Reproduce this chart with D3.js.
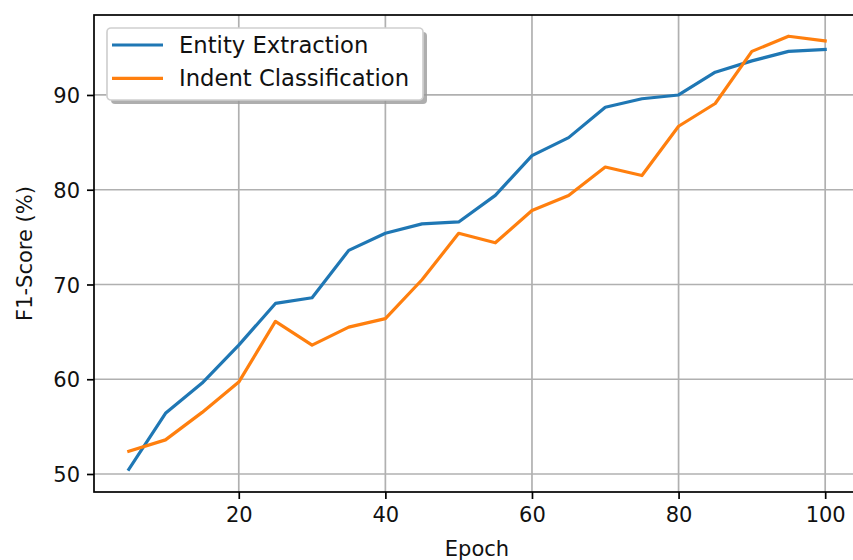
<!DOCTYPE html>
<html><head><meta charset="utf-8">
<script src="https://cdn.jsdelivr.net/npm/d3@7"></script>
<style>body{margin:0;background:#fff}svg{display:block}</style></head>
<body><svg id="c" width="853" height="560"></svg>
<script>
const epochs = [5,10,15,20,25,30,35,40,45,50,55,60,65,70,75,80,85,90,95,100];
const entityExtraction = [50.5,56.4,59.6,63.6,68.0,68.6,73.6,75.4,76.4,76.6,79.4,83.6,85.5,88.7,89.6,90.0,92.4,93.6,94.6,94.8];
const indentClassification = [52.4,53.6,56.5,59.7,66.1,63.6,65.5,66.4,70.5,75.4,74.4,77.8,79.4,82.4,81.5,86.7,89.1,94.6,96.2,95.7];
const xTicks = [20,40,60,80,100];
const yTicks = [50,60,70,80,90];
const seriesNames = ["Entity Extraction","Indent Classification"];
const seriesColors = ["#1f77b4","#ff7f0e"];
const xLabel = "Epoch";
const yLabel = "F1-Score (%)";

const W = 853, H = 560;
const plot = {left:94, right:860, top:15, bottom:492};
const font = "'DejaVu Sans', sans-serif";
const fs = 21;

const svg = d3.select("#c");
const x = d3.scaleLinear().domain([0.25,104.75]).range([plot.left, plot.right]);
const y = d3.scaleLinear().domain([48.1,98.44]).range([plot.bottom, plot.top]);

// grid
const g = svg.append("g");
g.selectAll(".gx").data(xTicks).enter().append("line")
  .attr("x1", d=>x(d)).attr("x2", d=>x(d)).attr("y1", plot.top).attr("y2", plot.bottom)
  .attr("stroke","#b0b0b0").attr("stroke-width",1.7);
g.selectAll(".gy").data(yTicks).enter().append("line")
  .attr("x1", plot.left).attr("x2", plot.right).attr("y1", d=>y(d)).attr("y2", d=>y(d))
  .attr("stroke","#b0b0b0").attr("stroke-width",1.7);

// lines
const series = [entityExtraction, indentClassification];
const line = d3.line().x((d,i)=>x(epochs[i])).y(d=>y(d));
series.forEach((s,k)=>{
  svg.append("path").datum(s).attr("d", line).attr("fill","none")
    .attr("stroke", seriesColors[k]).attr("stroke-width",3.2)
    .attr("stroke-linejoin","round").attr("stroke-linecap","square");
});

// axes
const xAxis = d3.axisBottom(x).tickValues(xTicks).tickSize(7).tickPadding(7).tickFormat(d3.format("d"));
const yAxis = d3.axisLeft(y).tickValues(yTicks).tickSize(7).tickPadding(7).tickFormat(d3.format("d"));
const gx = svg.append("g").attr("transform",`translate(0,${plot.bottom})`).call(xAxis);
const gy = svg.append("g").attr("transform",`translate(${plot.left},0)`).call(yAxis);
[gx,gy].forEach(a=>{
  a.select(".domain").remove();
  a.selectAll(".tick line").attr("stroke","#000").attr("stroke-width",1.7);
  a.selectAll(".tick text").attr("font-family",font).attr("font-size",fs).attr("fill","#111");
});
gx.selectAll(".tick text").attr("dy","0.76em");
gy.selectAll(".tick text").attr("dy","0.36em");

// spines
svg.append("rect").attr("x",plot.left).attr("y",plot.top)
  .attr("width",plot.right-plot.left).attr("height",plot.bottom-plot.top)
  .attr("fill","none").attr("stroke","#000").attr("stroke-width",1.7);

// labels
svg.append("text").attr("x",(plot.left+plot.right)/2).attr("y",556)
  .attr("text-anchor","middle").attr("font-family",font).attr("font-size",fs).attr("fill","#111").text(xLabel);
svg.append("text").attr("transform",`translate(32,${(plot.top+plot.bottom)/2}) rotate(-90)`)
  .attr("text-anchor","middle").attr("font-family",font).attr("font-size",fs).attr("fill","#111").text(yLabel);

// legend
const lg = svg.append("g");
const lb = {x:107, y:28, w:316, h:72};
lg.append("rect").attr("x",lb.x+4).attr("y",lb.y+4).attr("width",lb.w).attr("height",lb.h)
  .attr("rx",4).attr("fill","#9a9a9a").attr("opacity",0.8);
lg.append("rect").attr("x",lb.x).attr("y",lb.y).attr("width",lb.w).attr("height",lb.h)
  .attr("rx",4).attr("fill","#fff").attr("stroke","#d0d0d0").attr("stroke-width",1.7);
seriesNames.forEach((n,k)=>{
  const yy = 45 + k*33.3;
  lg.append("line").attr("x1",112).attr("x2",163).attr("y1",yy).attr("y2",yy)
    .attr("stroke",seriesColors[k]).attr("stroke-width",3.2);
  lg.append("text").attr("x",179).attr("y",yy+8).attr("font-family",font).attr("font-size",22.7)
    .attr("fill","#111").text(n);
});
</script></body></html>
